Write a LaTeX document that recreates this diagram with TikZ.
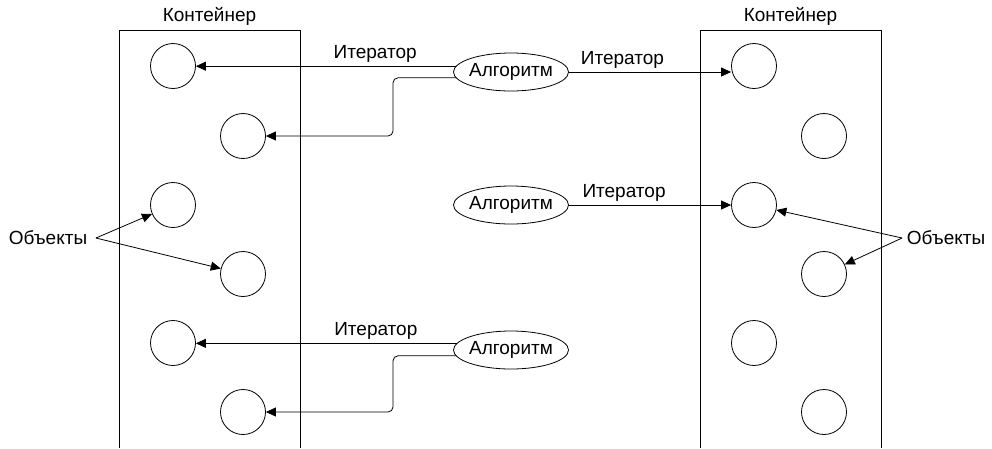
\documentclass[tikz,border=0pt]{standalone}
\usepackage{fontspec}
\setmainfont{Liberation Sans}
\usetikzlibrary{shapes.geometric,arrows.meta}

\begin{document}
\begin{tikzpicture}[
    x=1pt,y=-1pt,
    obj/.style={draw,circle,minimum size=45pt,inner sep=0pt},
    algo/.style={draw,ellipse,minimum width=115pt,minimum height=38pt,inner xsep=-2pt,inner ysep=0pt,font=\fontsize{19}{22}\selectfont},
    lbl/.style={font=\fontsize{19}{22}\selectfont},
    line width=0.8pt,
    >={Triangle[length=10pt,width=9pt]},
]
    \useasboundingbox (0,0) rectangle (992,448);

    % containers
    \draw (119,448) -- (119,30) -- (300,30) -- (300,448);
    \draw (700,448) -- (700,30) -- (881,30) -- (881,448);
    \node[lbl] (contL) at (209.5,16) {Контейнер};
    \node[lbl] (contR) at (790.5,16) {Контейнер};

    % objects
    \node[obj] (l1) at (173,66) {};
    \node[obj] (l2) at (243,136) {};
    \node[obj] (l3) at (173,205) {};
    \node[obj] (l4) at (243,274) {};
    \node[obj] (l5) at (173,343) {};
    \node[obj] (l6) at (243,412) {};
    \node[obj] (r1) at (754,66) {};
    \node[obj] (r2) at (824,136) {};
    \node[obj] (r3) at (754,205) {};
    \node[obj] (r4) at (824,274) {};
    \node[obj] (r5) at (754,343) {};
    \node[obj] (r6) at (824,412) {};

    % algorithms
    \node[algo] (algA) at (511,72) {Алгоритм};
    \node[algo] (algB) at (511,205) {Алгоритм};
    \node[algo] (algC) at (511,350) {Алгоритм};
    \coordinate (bend) at (393,0);

    \draw[->] (algA.174) -- (algA.174 -| l1.east) node[lbl,above,pos=0.31] {Итератор};
    \draw[->,rounded corners=5pt] (algA.186) -| (l2.east -| bend) -- (l2.east);
    \draw[->] (algA.east) -- (algA.east -| r1.west) node[lbl,above,pos=0.33] {Итератор};
    \draw[->] (algB) -- (r3) node[lbl,above,pos=0.34] {Итератор};
    \draw[->] (algC.173) -- (algC.173 -| l5.east) node[lbl,above,pos=0.31] {Итератор};
    \draw[->,rounded corners=5pt] (algC.186) -| (l6.east -| bend) -- (l6.east);

    % labels
    \node[lbl] (objL) at (48,238) {Объекты};
    \node[lbl] (objR) at (946,238) {Объекты};
    \draw[->] ([xshift=5pt]objL.east) -- (l3);
    \draw[->] ([xshift=5pt]objL.east) -- (l4);
    \draw[->] ([xshift=-1pt]objR.west) -- (r3);
    \draw[->] ([xshift=-1pt]objR.west) -- (r4);
\end{tikzpicture}
\end{document}
